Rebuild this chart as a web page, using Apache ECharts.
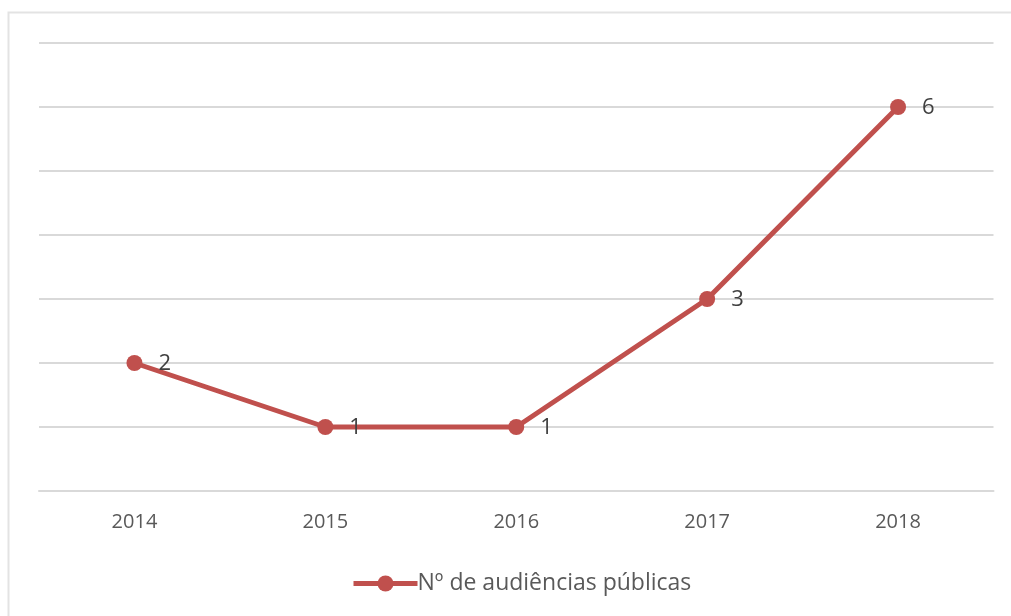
<!DOCTYPE html>
<html><head><meta charset="utf-8">
<script src="https://cdn.jsdelivr.net/npm/echarts@6/dist/echarts.min.js"></script>
<style>html,body{margin:0;padding:0;background:#fff}#c{width:1011px;height:616px}</style>
</head><body><div id="c"></div>
<script>
const categories = ['2014','2015','2016','2017','2018'];
const seriesName = 'Nº de audiências públicas';
const values = [2,1,1,3,6];

const chart = echarts.init(document.getElementById('c'));
chart.setOption({
  animation:false,
  backgroundColor:'#fff',
  textStyle:{fontFamily:'Open Sans'},
  graphic:[{type:'rect',shape:{x:8.5,y:12.5,width:1020,height:620},style:{fill:null,stroke:'#e3e3e3',lineWidth:2},silent:true}],
  grid:{left:39,right:17.5,top:43,bottom:125},
  legend:{bottom:16,left:346,itemWidth:64,itemHeight:20,itemGap:10,
    lineStyle:{width:5},
    textStyle:{fontSize:23,color:'#595959',fontFamily:'Open Sans',padding:[0,0,0,-5]},
    data:[{name:seriesName}]},
  xAxis:{type:'category',data:categories,boundaryGap:true,
    axisLine:{show:true,lineStyle:{color:'#d9d9d9',width:2}},axisTick:{show:false},
    axisLabel:{fontSize:20,color:'#595959',margin:21}},
  yAxis:{type:'value',min:0,max:7,interval:1,axisLabel:{show:false},axisLine:{show:false},axisTick:{show:false},
    splitLine:{lineStyle:{color:'#d9d9d9',width:2}}},
  series:[{name:seriesName,type:'line',data:values,symbol:'circle',symbolSize:16,
    lineStyle:{color:'#c0504d',width:5},itemStyle:{color:'#c0504d'},
    label:{show:true,position:'right',distance:16,fontSize:22,color:'#404040',offset:[0,1]}}]
});
</script></body></html>
